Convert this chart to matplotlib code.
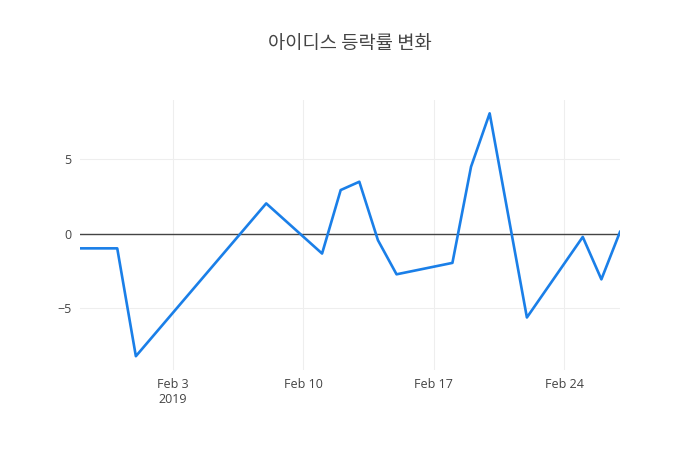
import pandas as pd
import matplotlib
matplotlib.use('Agg')
import matplotlib.pyplot as plt
import matplotlib.dates as mdates

# Данные: дата и дневное изменение (%)
dates = ['2019-01-29', '2019-01-30', '2019-01-31', '2019-02-01', '2019-02-08',
         '2019-02-11', '2019-02-12', '2019-02-13', '2019-02-14', '2019-02-15',
         '2019-02-18', '2019-02-19', '2019-02-20', '2019-02-22', '2019-02-25',
         '2019-02-26', '2019-02-27']
changes = [-1.0, -1.0, -1.0, -8.27, 2.03,
           -1.35, 2.93, 3.49, -0.45, -2.75,
           -1.98, 4.5, 8.1, -5.66, -0.23,
           -3.09, 0.11]
title = '아이디스 등락률 변화'
x_ticks = ['2019-02-03', '2019-02-10', '2019-02-17', '2019-02-24']
x_tick_labels = ['Feb 3\n2019', 'Feb 10', 'Feb 17', 'Feb 24']
y_ticks = [-5, 0, 5]

x = pd.to_datetime(dates)

fig = plt.figure(figsize=(7, 4.5), dpi=100)
ax = fig.add_axes([80 / 700, 80 / 450, 540 / 700, 270 / 450])

ax.plot(x, changes, color='#1a7fe8', linewidth=1.9, zorder=3)
ax.axhline(0, color='#444444', linewidth=1, zorder=2)

ax.set_xlim(x[0], x[-1])
ax.set_ylim(-9.2, 9.0)

ax.set_xticks(pd.to_datetime(x_ticks))
ax.set_xticklabels(x_tick_labels, fontsize=9, color='#444444',
                   family=['Open Sans', 'DejaVu Sans'], linespacing=1.2)
ax.set_yticks(y_ticks)
ax.set_yticklabels([f'{v}'.replace('-', '\u2212') for v in y_ticks], fontsize=9,
                   color='#444444', family=['Open Sans', 'DejaVu Sans'])

ax.grid(True, color='#eeeeee', linewidth=0.8, zorder=0)
ax.tick_params(length=0, pad=6)
for s in ax.spines.values():
    s.set_visible(False)

fig.text(0.5, 1 - 44 / 450, title, ha='center', va='center', fontsize=13.5,
         color='#444444', family=['Noto Sans CJK KR', 'DejaVu Sans'])

plt.savefig('out.png', dpi=100)
